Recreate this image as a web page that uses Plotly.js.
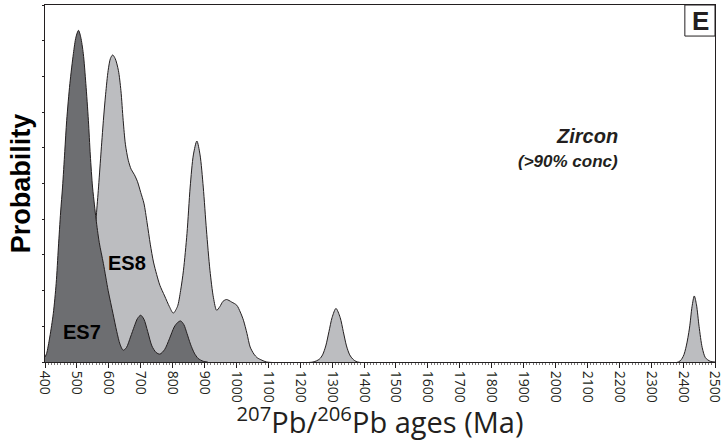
<!DOCTYPE html>
<html>
<head>
<meta charset="utf-8">
<script src="https://cdn.plot.ly/plotly-3.0.1.min.js"></script>
<style>html,body{margin:0;padding:0;background:#fff;}#chart{width:725px;height:441px;}</style>
</head>
<body>
<div id="chart"></div>
<script>
// ES7 probability density (age in Ma, relative probability)
const es7Age = [400,405,415,426,435,442,449,455,462,468,478,489,497,505,512,520,528,536,542,549,555,560,570,583,598,613,625,635,645,655,668,680,690,700,710,722,735,748,760,775,790,805,815,825,835,845,856,868,880,896,910];
const es7Prob = [0.14,0.24,0.7,1.36,2.2,3.22,4.2,4.9,5.9,6.77,7.8,8.64,9.1,9.29,9.1,8.64,7.8,6.77,5.8,4.9,4.4,4.0,3.35,2.76,2.0,1.36,0.85,0.5,0.33,0.4,0.7,1.0,1.22,1.31,1.2,0.85,0.45,0.27,0.22,0.35,0.65,0.98,1.1,1.15,1.05,0.8,0.5,0.25,0.1,0.02,0];

// ES8 probability density
const es8Age = [400,480,510,530,545,555,560,567,575,583,590,598,605,612,620,630,638,645,652,661,670,680,690,700,710,720,730,740,750,760,775,790,802,815,825,834,845,855,865,876,886,896,906,917,928,938,948,958,969,985,1001,1012,1022,1033,1043,1055,1065,1080,1095,1240,1260,1270,1280,1290,1300,1312,1325,1335,1345,1355,1365,1380,2385,2400,2410,2420,2428,2435,2442,2450,2460,2470,2485,2500];
const es8Prob = [0,0,0.2,0.7,1.8,3.3,4.0,4.8,5.8,6.77,7.5,8.17,8.5,8.6,8.5,8.17,7.6,6.77,6.1,5.65,5.4,5.25,5.05,4.75,4.45,3.9,3.3,2.8,2.45,2.15,1.85,1.55,1.37,1.55,2.0,2.57,3.6,4.9,5.8,6.19,5.8,4.9,3.7,2.57,1.8,1.45,1.55,1.7,1.75,1.68,1.59,1.4,1.17,0.8,0.42,0.22,0.12,0.05,0,0,0.08,0.2,0.45,0.85,1.25,1.5,1.25,0.85,0.45,0.2,0.08,0,0,0.15,0.45,0.95,1.55,1.85,1.6,1.0,0.4,0.12,0.02,0];

const sampleNames = ['ES8','ES7'];
const sampleLabelAge = [657, 516];
const sampleLabelProb = [2.76, 0.84];

const ink = '#231f20';

const traces = [
  {x: es8Age, y: es8Prob, name: 'ES8', type: 'scatter', mode: 'lines', fill: 'tozeroy',
   fillcolor: '#bcbdc0', line: {color: ink, width: 1, shape: 'spline', smoothing: 0.8}},
  {x: es7Age, y: es7Prob, name: 'ES7', type: 'scatter', mode: 'lines', fill: 'tozeroy',
   fillcolor: '#6d6e71', line: {color: ink, width: 1, shape: 'spline', smoothing: 0.8}}
];

const annotations = sampleNames.map((n, i) => ({
  x: sampleLabelAge[i], y: sampleLabelProb[i], xref: 'x', yref: 'y', text: n, showarrow: false,
  font: {family: 'Liberation Sans, Arial, sans-serif', size: 20, weight: 'bold', color: '#000'}
}));
annotations.push(
  {x: 0.858, y: 0.633, xref: 'paper', yref: 'paper', xanchor: 'right', yanchor: 'middle', text: 'Zircon', showarrow: false,
   font: {family: 'Liberation Sans, Arial, sans-serif', size: 20, weight: 'bold', style: 'italic', color: ink}},
  {x: 0.858, y: 0.562, xref: 'paper', yref: 'paper', xanchor: 'right', yanchor: 'middle', text: '(>90% conc)', showarrow: false,
   font: {family: 'Liberation Sans, Arial, sans-serif', size: 17, weight: 'bold', style: 'italic', color: ink}},
  {x: 0.978, y: 0.956, xref: 'paper', yref: 'paper', xanchor: 'center', yanchor: 'middle', text: 'E', showarrow: false,
   font: {family: 'Liberation Sans, Arial, sans-serif', size: 26, weight: 'bold', color: ink}}
);

const layout = {
  width: 725, height: 441,
  margin: {l: 45, r: 10, t: 5, b: 79, pad: 0},
  paper_bgcolor: '#fff', plot_bgcolor: '#fff',
  showlegend: false,
  xaxis: {
    range: [400, 2500], tick0: 400, dtick: 100, ticks: 'outside', ticklen: 5, tickwidth: 1, tickcolor: ink,
    showline: true, linecolor: ink, linewidth: 1, mirror: true, showgrid: false, zeroline: false,
    tickangle: 90, tickfont: {family: 'Open Sans, sans-serif', size: 14, color: ink},
    ticklabeloverflow: 'allow',
    minor: {dtick: 10, ticks: 'outside', ticklen: 2, tickwidth: 0.6, tickcolor: ink, showgrid: false},
    automargin: false,
    title: {text: '<sup>207</sup>Pb/<sup>206</sup>Pb ages (Ma)', standoff: 0,
            font: {family: 'Open Sans, sans-serif', size: 29, color: ink}}
  },
  yaxis: {
    range: [0, 10], dtick: 1, ticks: 'outside', ticklen: 2, tickwidth: 1, tickcolor: ink,
    showticklabels: false, showline: true, linecolor: ink, linewidth: 1, mirror: true,
    showgrid: false, zeroline: false, automargin: false,
    title: {text: 'Probability', standoff: 3,
            font: {family: 'Liberation Sans, Arial, sans-serif', size: 27, weight: 'bold', color: '#000'}}
  },
  shapes: [
    {type: 'rect', xref: 'paper', yref: 'paper', x0: 0.955, x1: 1, y0: 0.913, y1: 1,
     line: {color: ink, width: 1}, fillcolor: 'rgba(0,0,0,0)'}
  ],
  annotations: annotations
};

Plotly.newPlot('chart', traces, layout, {displayModeBar: false, staticPlot: true});
</script>
</body>
</html>
